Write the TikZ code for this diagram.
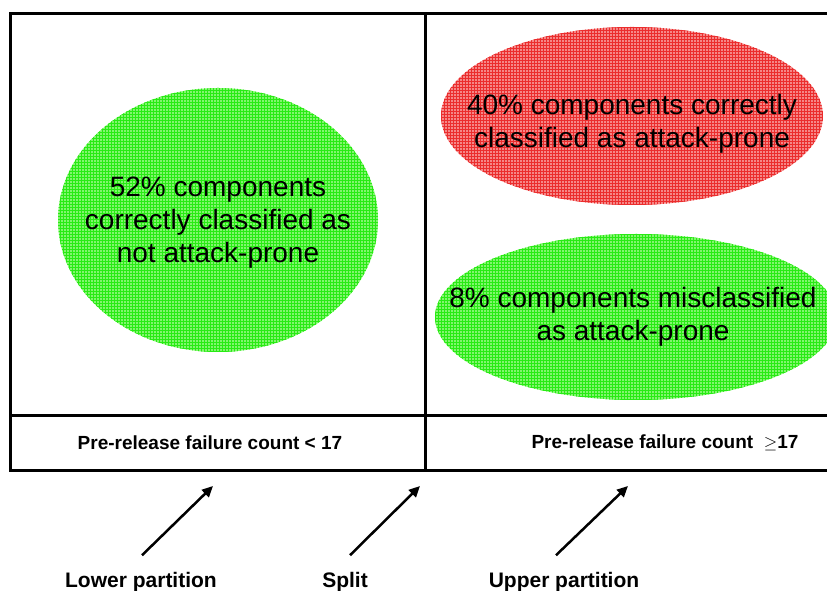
\documentclass[tikz,border=0pt]{standalone}
\usepackage{fontspec}
\setmainfont{Liberation Sans}
\usetikzlibrary{shapes.geometric,arrows.meta,patterns}
\definecolor{leafgreen}{RGB}{130,245,110}
\definecolor{gridgreen}{RGB}{40,235,20}
\definecolor{blushred}{RGB}{245,135,135}
\definecolor{gridred}{RGB}{235,45,45}

\begin{document}
\begin{tikzpicture}[x=1pt,y=1pt,
  blob/.style={ellipse,inner sep=0pt},
  good blob/.style={blob,fill=leafgreen,postaction={pattern=grid,pattern color=gridgreen}},
  bad blob/.style={blob,fill=blushred,postaction={pattern=grid,pattern color=gridred}},
  blob text/.style={align=center,inner sep=0pt,font=\fontsize{28}{33}\selectfont},
  cell label/.style={font=\fontsize{19}{22}\selectfont\bfseries},
  part label/.style={font=\fontsize{21}{24}\selectfont\bfseries,anchor=base},
  pointer/.style={-{Triangle[length=11pt,width=10pt]},line width=2.5pt}]
  \useasboundingbox (0,0) rectangle (827,591);
  \clip (0,0) rectangle (827,591);

  % the two partitions
  \draw[line width=3pt] (10,120) rectangle (850,577);
  \draw[line width=3pt] (425,120) -- (425,577);
  \draw[line width=3pt] (10,175) -- (850,175);

  \node[good blob,minimum width=320,minimum height=264] (notprone) at (218,371) {};
  \node[blob text] at ([yshift=-3]notprone.center)
    {52\% components\\correctly classified as\\not attack-prone};
  \node[bad blob,minimum width=382,minimum height=178] (prone) at (632,475) {};
  \node[blob text] at ([yshift=-8]prone.center)
    {40\% components correctly\\classified as attack-prone};
  \node[good blob,minimum width=402,minimum height=166] (miss) at (636,274) {};
  \node[blob text] at ([xshift=-3]miss.center)
    {8\% components misclassified\\as attack-prone};

  \node[cell label] (lowcond) at (210,148) {Pre-release failure count < 17};
  \node[cell label] (upcond) at (665,148) {Pre-release failure count \ $\geq$17};

  \node[part label] (lowpart) at (141,3) {Lower partition};
  \node[part label] (split) at (345,3) {Split};
  \node[part label] (uppart) at (564,3) {Upper partition};

  \coordinate (lowtip) at (213,105);
  \coordinate (splittip) at (420,105);
  \coordinate (uptip) at (628,105);
  \draw[pointer] ([shift={(1,14)}]lowpart.north) -- (lowtip);
  \draw[pointer] ([shift={(5,14)}]split.north) -- (splittip);
  \draw[pointer] ([shift={(-8,14)}]uppart.north) -- (uptip);
\end{tikzpicture}
\end{document}
